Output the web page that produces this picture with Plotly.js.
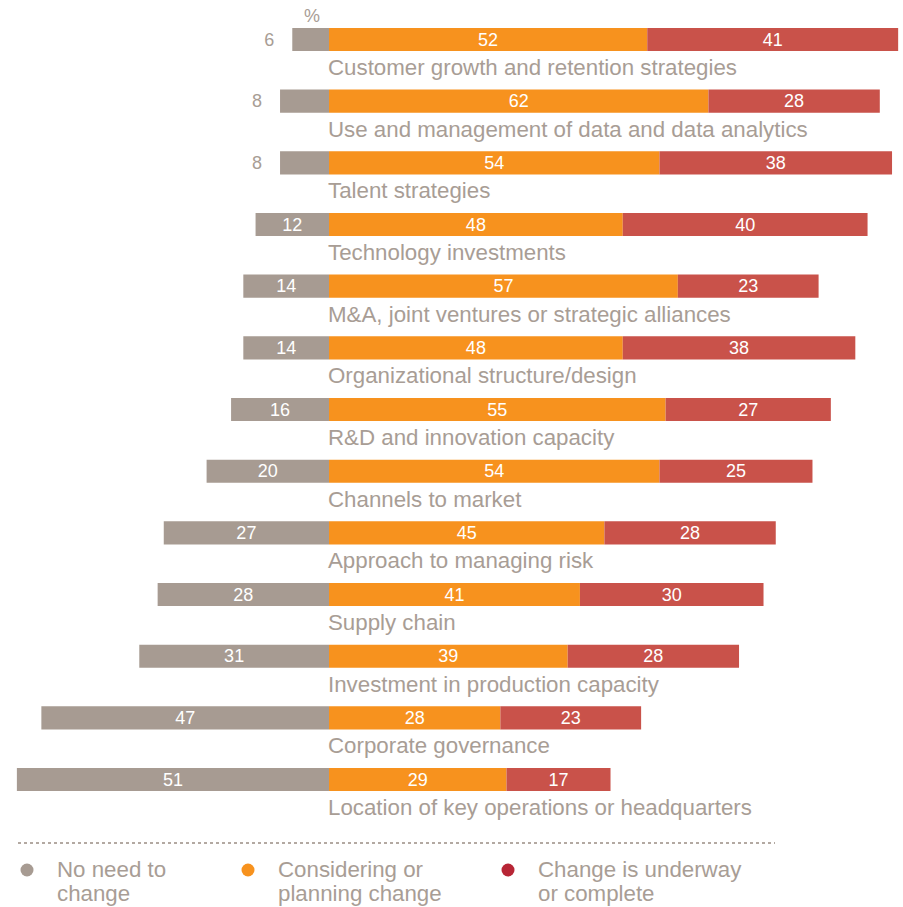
<!DOCTYPE html>
<html>
<head>
<meta charset="utf-8">
<script src="https://cdn.plot.ly/plotly-3.0.1.min.js"></script>
<style>html,body{margin:0;padding:0;background:#fff;}#chart{width:903px;height:907px;}</style>
</head>
<body>
<div id="chart"></div>
<script>
const categories = [
  "Customer growth and retention strategies",
  "Use and management of data and data analytics",
  "Talent strategies",
  "Technology investments",
  "M&A, joint ventures or strategic alliances",
  "Organizational structure/design",
  "R&D and innovation capacity",
  "Channels to market",
  "Approach to managing risk",
  "Supply chain",
  "Investment in production capacity",
  "Corporate governance",
  "Location of key operations or headquarters"
];
const noNeed      = [6, 8, 8, 12, 14, 14, 16, 20, 27, 28, 31, 47, 51];
const considering = [52, 62, 54, 48, 57, 48, 55, 54, 45, 41, 39, 28, 29];
const underway    = [41, 28, 38, 40, 23, 38, 27, 25, 28, 30, 28, 23, 17];
const seriesNames = ["No need to<br>change", "Considering or<br>planning change", "Change is underway<br>or complete"];

const GRAY = "#a79b92", ORANGE = "#f7921e", RED = "#c9524a", RED_LEG = "#b72535", TXT = "#a89d95";
const FONT = "Liberation Sans, Arial, sans-serif";
const VAL_SIZE = 18, LABEL_SIZE = 22.3;

const common = {
  type: "bar", orientation: "h", y: categories, texttemplate: "%{text}",
  textangle: 0, insidetextanchor: "middle", constraintext: "none",
  width: 0.375, hoverinfo: "skip"
};
const traces = [
  Object.assign({}, common, {
    x: noNeed.map(v => -v),
    text: noNeed.map(v => v < 10 ? v + "\u00a0\u00a0\u00a0" : String(v)),
    textposition: noNeed.map(v => v < 10 ? "outside" : "inside"),
    insidetextfont: {color: "#ffffff", size: VAL_SIZE, family: FONT},
    outsidetextfont: {color: TXT, size: VAL_SIZE, family: FONT},
    marker: {color: GRAY}, cliponaxis: false
  }),
  Object.assign({}, common, {
    x: considering, text: considering.map(String), textposition: "inside",
    insidetextfont: {color: "#ffffff", size: VAL_SIZE, family: FONT},
    marker: {color: ORANGE}
  }),
  Object.assign({}, common, {
    x: underway, text: underway.map(String), textposition: "inside",
    insidetextfont: {color: "#ffffff", size: VAL_SIZE, family: FONT},
    marker: {color: RED}
  })
];

const pxPerUnit = 6.12, zeroPx = 329, W = 903, H = 907;
const annotations = categories.map(c => ({
  x: 0, y: c, xref: "x", yref: "y", text: c, showarrow: false,
  xanchor: "left", yanchor: "middle", yshift: -28, xshift: -3,
  font: {size: LABEL_SIZE, color: TXT, family: FONT}
}));
annotations.push({x: 312/W, y: 1 - 16/H, xref: "paper", yref: "paper", text: "%", showarrow: false,
  xanchor: "center", yanchor: "middle", font: {size: VAL_SIZE, color: TXT, family: FONT}});

const legendX = [27, 248, 508];
const legendColors = [GRAY, ORANGE, RED_LEG];
const shapes = [{
  type: "line", xref: "paper", yref: "paper", x0: 18/W, x1: 775/W, y0: 1 - 843/H, y1: 1 - 843/H,
  line: {color: "#b3a9a2", width: 2, dash: "dot"}
}];
seriesNames.forEach((n, i) => {
  const cx = legendX[i], cy = 870, r = 6.5;
  shapes.push({type: "circle", xref: "paper", yref: "paper",
    x0: (cx - r)/W, x1: (cx + r)/W, y0: 1 - (cy + r)/H, y1: 1 - (cy - r)/H,
    fillcolor: legendColors[i], line: {width: 0}});
  n.split("<br>").forEach((line, j) => {
    annotations.push({x: (cx + 28)/W, y: 1 - (869 + 24*j)/H, xref: "paper", yref: "paper", text: line,
      showarrow: false, xanchor: "left", yanchor: "middle", align: "left",
      font: {size: LABEL_SIZE, color: TXT, family: FONT}});
  });
});

const layout = {
  width: W, height: H,
  margin: {l: 0, r: 0, t: 0, b: 0},
  paper_bgcolor: "#ffffff", plot_bgcolor: "#ffffff",
  barmode: "relative", showlegend: false,
  xaxis: {range: [-zeroPx/pxPerUnit, (W - zeroPx)/pxPerUnit], visible: false, fixedrange: true},
  yaxis: {type: "category", range: [(H - 39.5)/61.67, -39.5/61.67], visible: false, fixedrange: true},
  annotations: annotations, shapes: shapes,
  font: {family: FONT, color: TXT}
};
Plotly.newPlot("chart", traces, layout, {displayModeBar: false, staticPlot: true});
</script>
</body>
</html>
